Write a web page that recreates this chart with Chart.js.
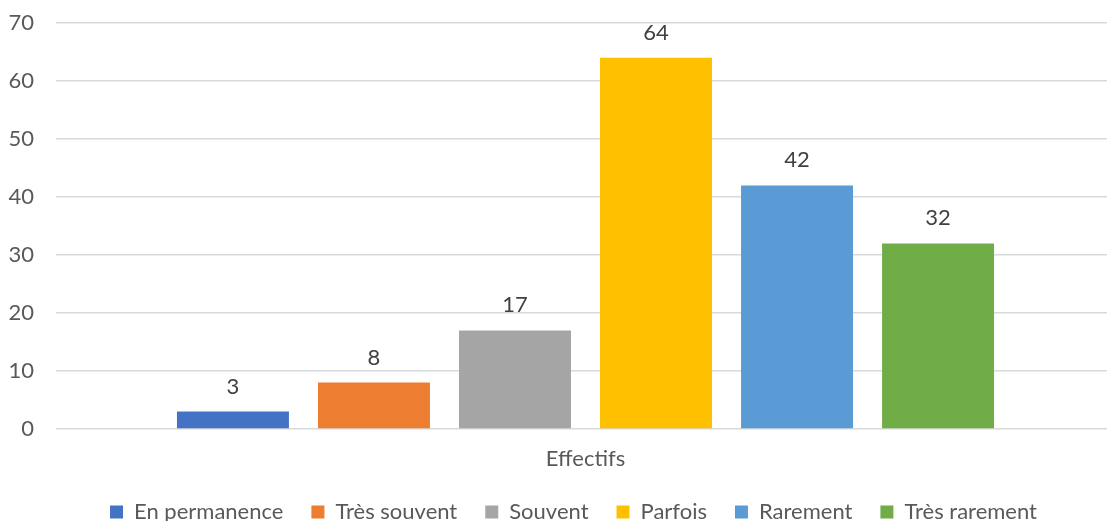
<!DOCTYPE html>
<html>
<head>
<meta charset="utf-8">
<script src="https://cdn.jsdelivr.net/npm/chart.js@4"></script>
<style>
  html, body { margin: 0; padding: 0; background: #fff; }
  #wrap { width: 1107px; height: 521px; }
</style>
</head>
<body>
<div id="wrap"><canvas id="chart" width="1107" height="521"></canvas></div>
<script>
// Effectifs par fréquence - bar chart, one category, six series
const categories = ['Effectifs'];
const seriesNames = ['En permanence', 'Très souvent', 'Souvent', 'Parfois', 'Rarement', 'Très rarement'];
const seriesValues = [3, 8, 17, 64, 42, 32];
const seriesColors = ['#4472C4', '#ED7D31', '#A5A5A5', '#FFC000', '#5B9BD5', '#70AD47'];
const yTicks = [0, 10, 20, 30, 40, 50, 60, 70];

const FONT = 'Lato, "Open Sans", sans-serif';

// Value labels above each bar
const valueLabels = {
    id: 'valueLabels',
    afterDatasetsDraw: function (chart) {
        const ctx = chart.ctx;
        ctx.save();
        ctx.font = '22px ' + FONT;
        ctx.fillStyle = '#404040';
        ctx.textAlign = 'center';
        ctx.textBaseline = 'middle';
        chart.data.datasets.forEach(function (ds, i) {
            chart.getDatasetMeta(i).data.forEach(function (bar, j) {
                ctx.fillText(String(ds.data[j]), bar.x, bar.y - 25);
            });
        });
        ctx.restore();
    }
};

// the original plot runs a little past the right edge; nudge legend too
const layoutTweaks = {
    id: 'layoutTweaks',
    afterLayout: function (chart) {
        chart.legend.left += 20;
        chart.legend.right += 20;
        const x = chart.scales.x;
        x.right += 8;
        x.configure();
    }
};

const datasets = seriesNames.map(function (name, i) {
    return {
        label: name,
        data: [seriesValues[i]],
        backgroundColor: seriesColors[i],
        borderWidth: 0,
        categoryPercentage: 0.799,
        barPercentage: 0.794
    };
});

new Chart(document.getElementById('chart'), {
    type: 'bar',
    data: { labels: categories, datasets: datasets },
    options: {
        responsive: false,
        animation: false,
        layout: { padding: { top: 23, right: 0, left: 0, bottom: -12 } },
        plugins: {
            legend: {
                position: 'bottom',
                labels: {
                    boxWidth: 13,
                    boxHeight: 13,
                    padding: 28,
                    color: '#595959',
                    font: { family: FONT, size: 22 }
                }
            },
            tooltip: { enabled: false }
        },
        scales: {
            x: {
                grid: { display: false },
                border: { display: false },
                ticks: { color: '#595959', font: { family: FONT, size: 22 }, padding: 9 },
                afterFit: function (scale) { scale.height = 44; }
            },
            y: {
                min: 0,
                max: 70,
                afterBuildTicks: function (scale) {
                    scale.ticks = yTicks.map(function (v) { return { value: v }; });
                },
                grid: { color: '#d9d9d9', lineWidth: 1.5, drawTicks: false },
                border: { display: false },
                ticks: { color: '#595959', font: { family: FONT, size: 22 }, padding: 22 },
                afterFit: function (scale) {
                    scale.width = 56;
                    scale.paddingTop = 0;
                    scale.paddingBottom = 0;
                }
            }
        }
    },
    plugins: [valueLabels, layoutTweaks]
});
</script>
</body>
</html>
